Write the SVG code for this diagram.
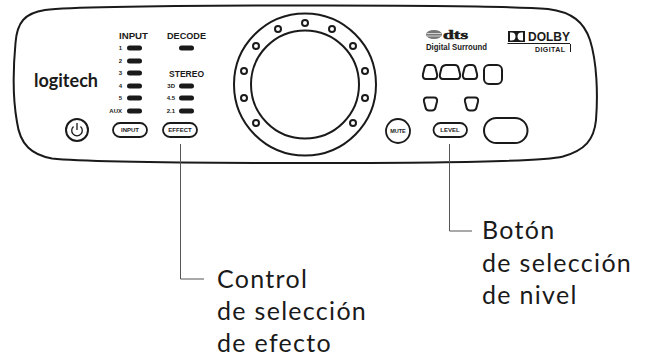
<svg xmlns="http://www.w3.org/2000/svg" width="650" height="356" viewBox="0 0 650 356">
<style>
.o{fill:none;stroke:#1a1a1a}
.led{fill:#1a1a1a}
.b{font-family:"Liberation Sans",Arial,sans-serif;font-weight:700;fill:#1a1a1a}
.h{font-size:9.5px}
.s{font-size:6px;text-anchor:end}
.k{font-size:6px;text-anchor:middle}
.l{font-family:Lato,"Liberation Sans",sans-serif;font-size:25px;letter-spacing:1.3px;fill:#1a1a1a}
.c{fill:none;stroke:#555;stroke-width:1}
</style>
<g id="panel"><path class="o" stroke-width="2" d="M325 5.500C430 5.500 510 6 548 9C572 12 584 22 590 40C597 62 598 95 596 120C594 140 585 150 563 156.500C545 161 480 163 325 163C170 163 85 162 52 158.500C32 155 20 145 17 122C13 100 13 70 15.500 43C17 22 25 13 45 10C80 6 200 5.500 325 5.500Z"/></g>
<g id="logo"><text x="34" y="87" font-family="Lato,'Liberation Sans',sans-serif" font-weight="700" font-size="18px" textLength="64" lengthAdjust="spacingAndGlyphs" fill="#1a1a1a">logitech</text></g>
<g id="input-leds"><text class="b h" x="119" y="39" textLength="29" lengthAdjust="spacingAndGlyphs">INPUT</text>
<text class="b s" x="122" y="50">1</text><rect class="led" x="127" y="45.500" width="15" height="5" rx="2.500"/>
<text class="b s" x="122" y="63">2</text><rect class="led" x="127" y="58.500" width="15" height="5" rx="2.500"/>
<text class="b s" x="122" y="75">3</text><rect class="led" x="127" y="70.500" width="15" height="5" rx="2.500"/>
<text class="b s" x="122" y="88">4</text><rect class="led" x="127" y="83.500" width="15" height="5" rx="2.500"/>
<text class="b s" x="122" y="100">5</text><rect class="led" x="127" y="95.500" width="15" height="5" rx="2.500"/>
<text class="b s" x="122" y="113">AUX</text><rect class="led" x="127" y="108.500" width="15" height="5" rx="2.500"/></g>
<g id="decode"><text class="b h" x="167" y="39" textLength="39" lengthAdjust="spacingAndGlyphs">DECODE</text><rect class="led" x="179" y="45.500" width="15" height="5" rx="2.500"/></g>
<g id="stereo"><text class="b h" x="169" y="77" textLength="35" lengthAdjust="spacingAndGlyphs">STEREO</text>
<text class="b s" x="175" y="88">3D</text><rect class="led" x="179" y="83.500" width="15" height="5" rx="2.500"/>
<text class="b s" x="175" y="100">4.5</text><rect class="led" x="179" y="95.500" width="15" height="5" rx="2.500"/>
<text class="b s" x="175" y="113">2.1</text><rect class="led" x="179" y="108.500" width="15" height="5" rx="2.500"/></g>
<g id="power"><circle class="o" stroke-width="2" cx="77" cy="130" r="11"/><path class="o" stroke-width="1.300" d="M73.500 126.500A5.300 5.300 0 1 0 80.500 126.500M77 123V130"/></g>
<g id="input-btn"><rect class="o" stroke-width="1.800" x="113" y="123" width="34" height="14" rx="7"/><text class="b k" x="130" y="132">INPUT</text></g>
<g id="effect-btn"><rect class="o" stroke-width="1.800" x="163" y="123" width="34" height="14" rx="7"/><text class="b k" x="180" y="132">EFFECT</text></g>
<g id="dial"><circle class="o" stroke-width="2" cx="305" cy="84.500" r="71"/><circle class="o" stroke-width="2" cx="305" cy="84.500" r="54"/>
<circle class="o" stroke-width="2" cx="305" cy="23" r="3"/><circle class="o" stroke-width="2" cx="278" cy="29" r="3"/><circle class="o" stroke-width="2" cx="332" cy="29" r="3"/><circle class="o" stroke-width="2" cx="256" cy="46" r="3"/><circle class="o" stroke-width="2" cx="353" cy="46" r="3"/><circle class="o" stroke-width="2" cx="244" cy="71" r="3"/><circle class="o" stroke-width="2" cx="365" cy="71" r="3"/><circle class="o" stroke-width="2" cx="244" cy="98" r="3"/><circle class="o" stroke-width="2" cx="365" cy="98" r="3"/><circle class="o" stroke-width="2" cx="256" cy="123" r="3"/><circle class="o" stroke-width="2" cx="353" cy="123" r="3"/></g>
<g id="mute-btn"><circle class="o" stroke-width="1.800" cx="398" cy="131" r="12"/><text class="b k" x="398" y="133" style="font-size:5.500px">MUTE</text></g>
<g id="level-btn"><rect class="o" stroke-width="1.800" x="433.500" y="123" width="33.500" height="14" rx="7"/><text class="b k" x="450" y="132">LEVEL</text></g>
<g id="oval-btn"><rect class="o" stroke-width="2" x="484" y="118" width="43.500" height="25" rx="12.500"/></g>
<g id="dts"><ellipse cx="434" cy="34.500" rx="8" ry="4.500" fill="#777"/><path d="M427 33.500H441M427 36H441" stroke="#fff" stroke-width=".7"/><text x="443" y="39" font-family="'Liberation Serif',serif" font-weight="700" font-size="12px" stroke="#1a1a1a" stroke-width=".5" textLength="25" lengthAdjust="spacingAndGlyphs" fill="#1a1a1a">dts</text><text x="426" y="50" font-family="'Liberation Sans',sans-serif" font-weight="700" font-size="9px" textLength="61" lengthAdjust="spacingAndGlyphs" fill="#1a1a1a">Digital Surround</text></g>
<g id="dolby"><rect x="508" y="31" width="17" height="11" fill="#1a1a1a"/><path d="M510 32.500h1.500a4 4 0 0 1 0 8H510zM523 32.500h-1.500a4 4 0 0 0 0 8H523z" fill="#fff"/><text x="528" y="41" font-family="'Liberation Sans',sans-serif" font-size="12.500px" textLength="42" lengthAdjust="spacingAndGlyphs" fill="#1a1a1a" font-weight="700">DOLBY</text><path class="o" d="M507.500 43.500H570M570.500 44V52"/><text x="535" y="52" font-family="'Liberation Sans',sans-serif" font-size="7px" textLength="30" font-weight="700" fill="#1a1a1a">DIGITAL</text></g>
<g id="buttons"><path class="o" stroke-width="2" d="M428 65h4c2 0 3 1 3.500 3l1.500 6c.7 3-.5 5-3 5h-8c-2.500 0-3.700-2-3-5l1.500-6c.5-2 1.500-3 3.500-3z"/><path class="o" stroke-width="2" d="M446 65h9c2 0 3 1 3.500 3l1.500 6c.7 3-.5 5-3 5h-14c-2.500 0-3.700-2-3-5l1.500-6c.5-2 3.500-3 4.500-3z"/><path class="o" stroke-width="2" d="M469 65h3c2 0 3 1 3.500 3l1.500 6c.7 3-.5 5-3 5h-8c-2.500 0-3.700-2-3-5l1.500-6c.5-2 3.500-3 4.500-3z"/><rect class="o" stroke-width="2" x="484" y="65" width="18" height="19" rx="5"/><path class="o" stroke-width="2" d="M426 97.500h8c2.500 0 3.500 1.500 3 4l-1.500 6c-.5 2-2 3-3.500 3h-3c-1.500 0-3-1-3.500-3l-1.500-6c-.5-2.500.500-4 3-4z"/><path class="o" stroke-width="2" d="M467 97.500h8c2.500 0 3.500 1.500 3 4l-1.500 6c-.5 2-2 3-3.500 3h-3c-1.500 0-3-1-3.500-3l-1.500-6c-.5-2.500.500-4 3-4z"/></g>
<g id="connectors"><path class="c" d="M180.500 144V279H204"/><path class="c" d="M449.500 144V231H472"/></g>
<g id="label-effect"><text class="l" x="217" y="288">Control</text><text class="l" x="217" y="320">de selección</text><text class="l" x="217" y="352">de efecto</text></g>
<g id="label-level"><text class="l" x="482" y="239">Botón</text><text class="l" x="482" y="272">de selección</text><text class="l" x="482" y="304">de nivel</text></g>
</svg>
